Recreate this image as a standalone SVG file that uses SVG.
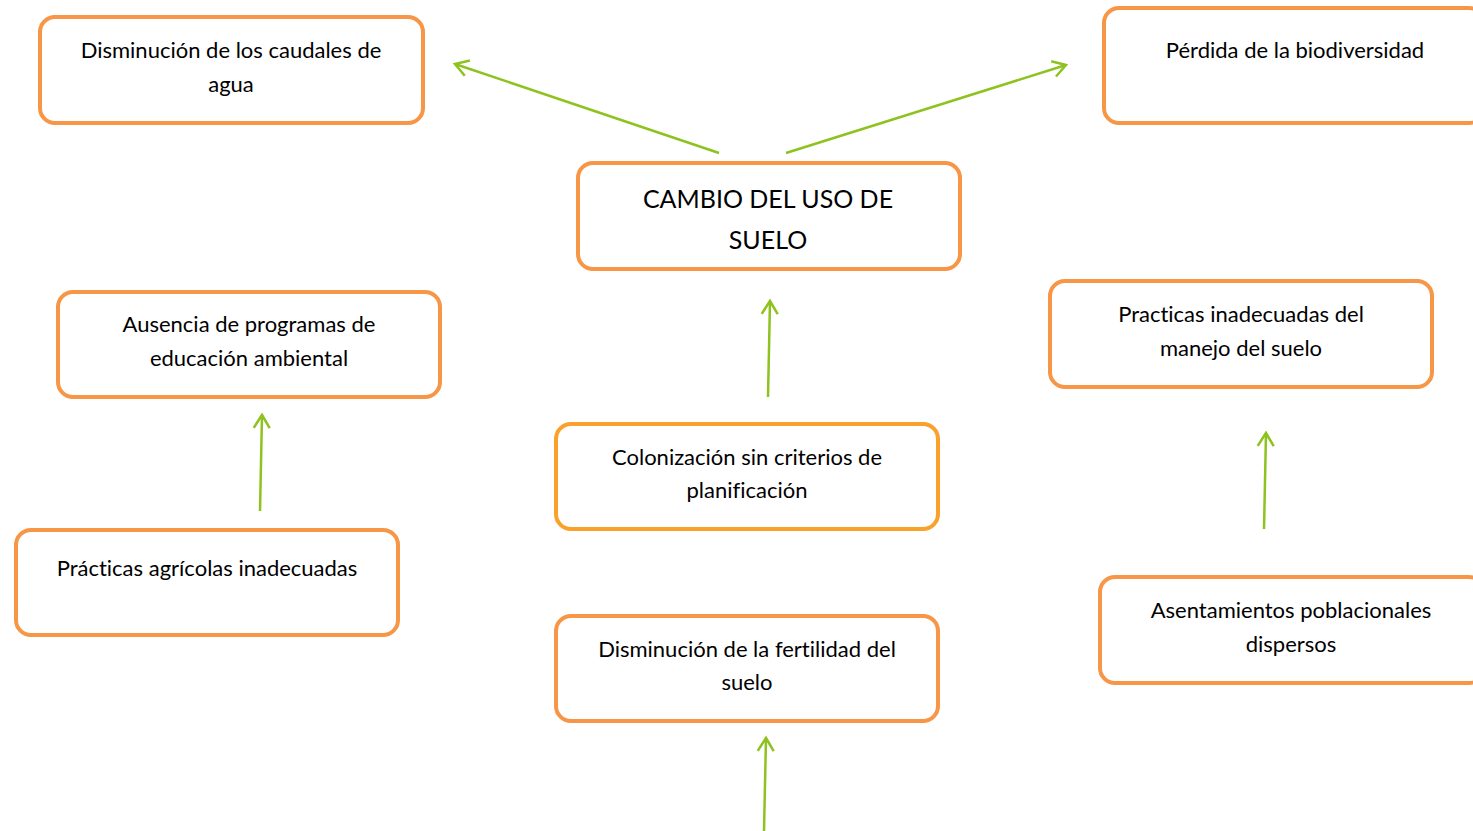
<svg xmlns="http://www.w3.org/2000/svg" width="1473" height="831" viewBox="0 0 1473 831">
<style>
.box{fill:#fff;stroke:#F79646;stroke-width:4}
.box2{fill:#fff;stroke:#F9A12B;stroke-width:4}
.t{font-family:Lato,"Open Sans",sans-serif;font-size:22px;fill:#000;text-anchor:middle;font-variant-ligatures:none;font-feature-settings:"liga" 0,"dlig" 0}
.big{font-size:25px}
.c{stroke:#8DC21F;stroke-width:2.5;fill:none;marker-end:url(#ah)}
</style>
<defs>
<marker id="ah" markerUnits="userSpaceOnUse" markerWidth="24" markerHeight="24" viewBox="-14 -12 16 24" refX="0" refY="0" orient="auto">
<path d="M-13,-8 L0,0 L-13,8" fill="none" stroke="#8DC21F" stroke-width="2.5"/>
</marker>
</defs>
<rect width="1473" height="831" fill="#fff"/>
<g id="connectors">
<line class="c" x1="719" y1="153" x2="455" y2="64"/>
<line class="c" x1="786" y1="153" x2="1066" y2="65"/>
<line class="c" x1="768" y1="397" x2="770" y2="301"/>
<line class="c" x1="260" y1="511" x2="262" y2="415"/>
<line class="c" x1="1264" y1="529" x2="1266" y2="433"/>
<line class="c" x1="764" y1="831" x2="766" y2="738"/>
</g>
<g id="n1"><rect class="box" x="40" y="17" width="383" height="106" rx="15"/><text class="t" x="231" y="58">Disminución de los caudales de</text><text class="t" x="231" y="92">agua</text></g>
<g id="n2"><rect class="box" x="1104" y="8" width="380" height="115" rx="15"/><text class="t" x="1295" y="58">Pérdida de la biodiversidad</text></g>
<g id="n3"><rect class="box" x="578" y="163" width="382" height="106" rx="15"/><text class="t big" x="768" y="208">CAMBIO DEL USO DE</text><text class="t big" x="768" y="249">SUELO</text></g>
<g id="n4"><rect class="box" x="58" y="292" width="382" height="105" rx="15"/><text class="t" x="249" y="332">Ausencia de programas de</text><text class="t" x="249" y="366">educación ambiental</text></g>
<g id="n5"><rect class="box" x="1050" y="281" width="382" height="106" rx="15"/><text class="t" x="1241" y="322">Practicas inadecuadas del</text><text class="t" x="1241" y="356">manejo del suelo</text></g>
<g id="n6"><rect class="box2" x="556" y="424" width="382" height="105" rx="15"/><text class="t" x="747" y="465">Colonización sin criterios de</text><text class="t" x="747" y="498">planificación</text></g>
<g id="n7"><rect class="box" x="16" y="530" width="382" height="105" rx="15"/><text class="t" x="207" y="576">Prácticas agrícolas inadecuadas</text></g>
<g id="n8"><rect class="box" x="556" y="616" width="382" height="105" rx="15"/><text class="t" x="747" y="657">Disminución de la fertilidad del</text><text class="t" x="747" y="690">suelo</text></g>
<g id="n9"><rect class="box" x="1100" y="577" width="384" height="106" rx="15"/><text class="t" x="1291" y="618">Asentamientos poblacionales</text><text class="t" x="1291" y="652">dispersos</text></g>
</svg>
